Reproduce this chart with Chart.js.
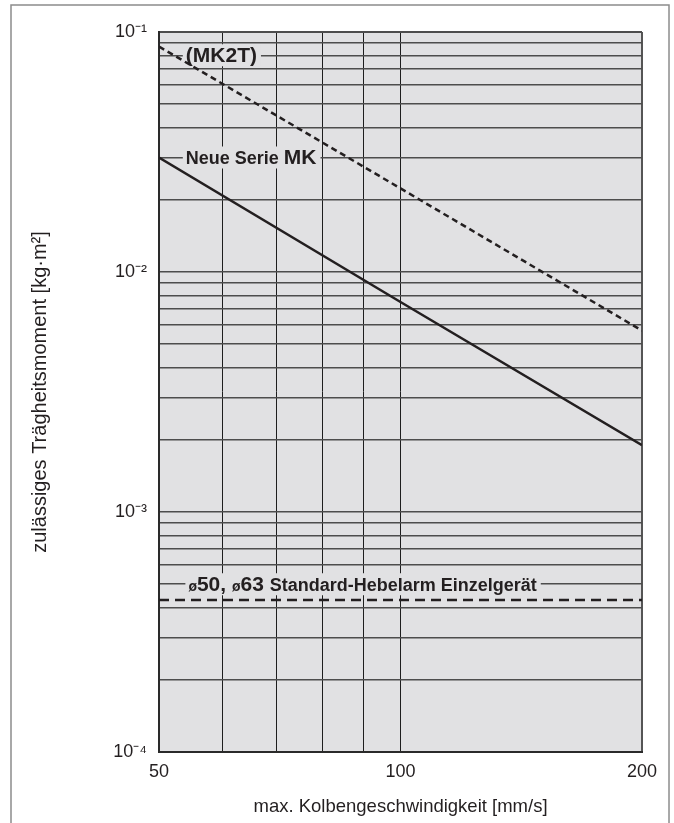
<!DOCTYPE html>
<html lang="de">
<head>
    <meta charset="UTF-8">
    <title>Zulässiges Trägheitsmoment</title>
    <script src="https://cdn.jsdelivr.net/npm/chart.js"></script>
    <style>
        body { margin: 0; padding: 0; background: #ffffff; }
        canvas { display: block; }
    </style>
</head>
<body>
<canvas id="inertiaChart" width="674" height="823"></canvas>
<script>
// max. Kolbengeschwindigkeit [mm/s]
const speeds = [50, 100, 200];
// zulässiges Trägheitsmoment [kg·m²]
const newSeriesMK = [0.03, 0.0075, 0.0019];
const seriesMK2T = [0.087, 0.0223, 0.0057];
const standardArm = [0.00043, 0.00043, 0.00043];

// ticks
const xTicks = [50, 60, 70, 80, 90, 100, 200];
const xTickLabels = ['50', '', '', '', '', '100', '200'];
const yDecades = [1e-4, 1e-3, 1e-2, 1e-1];
const yDecadeLabels = ['10⁻⁴', '10⁻³', '10⁻²', '10⁻¹'];
const yMinorSteps = [1, 2, 3, 4, 5, 6, 7, 8, 9];

const ink = '#231f20';
const plotGray = '#e1e1e3';
const family = "'Liberation Sans', Arial, sans-serif";

// labels sitting on a grid line, anchored in data units
const curveLabels = [
    { x: 54, y: 0.08, parts: [['(MK2T)', 'bold 21px']] },
    { x: 54, y: 0.03, parts: [['Neue Serie ', 'bold 18px'], ['MK', 'bold 21px']] },
    { x: 54.4, y: 0.0005, parts: [['ø', 'bold 14px'], ['50, ', 'bold 21px'], ['ø', 'bold 14px'],
        ['63 ', 'bold 21px'], ['Standard-Hebelarm Einzelgerät', 'bold 18px']] }
];

function points(ys) {
    return speeds.map((s, i) => ({ x: s, y: ys[i] }));
}

const yTickValues = [];
yDecades.forEach((d, i) => {
    if (i === yDecades.length - 1) { yTickValues.push(d); return; }
    yMinorSteps.forEach(m => yTickValues.push(m * d));
});

// frame and gray plot area
const paperPlugin = {
    id: 'paper',
    beforeDraw(chart) {
        const { ctx, chartArea: a } = chart;
        ctx.save();
        ctx.strokeStyle = '#8c8c8c';
        ctx.lineWidth = 1.5;
        ctx.strokeRect(11, 5, 658, 860);
        ctx.fillStyle = plotGray;
        ctx.fillRect(a.left, a.top, a.right - a.left, a.bottom - a.top);
        ctx.restore();
    }
};

// curve names, with a gray box hiding the grid line behind them
const labelPlugin = {
    id: 'curveLabels',
    beforeDatasetsDraw(chart) {
        const { ctx, scales } = chart;
        ctx.save();
        ctx.textBaseline = 'alphabetic';
        ctx.textAlign = 'left';
        curveLabels.forEach(lbl => {
            const x0 = scales.x.getPixelForValue(lbl.x);
            const y0 = scales.y.getPixelForValue(lbl.y);
            let w = 0;
            lbl.parts.forEach(p => { ctx.font = p[1] + ' ' + family; w += ctx.measureText(p[0]).width; });
            ctx.fillStyle = plotGray;
            ctx.fillRect(x0 - 3, y0 - 11, w + 7, 22);
            ctx.fillStyle = ink;
            let x = x0;
            lbl.parts.forEach(p => {
                ctx.font = p[1] + ' ' + family;
                ctx.fillText(p[0], x, y0 + 7);
                x += ctx.measureText(p[0]).width;
            });
        });
        ctx.restore();
    }
};

const ctx = document.getElementById('inertiaChart').getContext('2d');
new Chart(ctx, {
    type: 'line',
    data: {
        datasets: [
            { label: 'Neue Serie MK', data: points(newSeriesMK), borderColor: ink, borderWidth: 2.5, pointRadius: 0 },
            { label: '(MK2T)', data: points(seriesMK2T), borderColor: ink, borderWidth: 2.5, borderDash: [6, 4], pointRadius: 0 },
            { label: 'ø50, ø63 Standard-Hebelarm Einzelgerät', data: points(standardArm), borderColor: ink,
              borderWidth: 2.5, borderDash: [10, 6], pointRadius: 0 }
        ]
    },
    options: {
        responsive: false,
        animation: false,
        devicePixelRatio: 1,
        layout: { padding: { top: 32, right: 32, left: 0, bottom: 0 } },
        plugins: { legend: { display: false }, tooltip: { enabled: false } },
        scales: {
            x: {
                type: 'logarithmic',
                min: 50,
                max: 200,
                afterBuildTicks: s => { s.ticks = xTicks.map(v => ({ value: v })); },
                afterFit: s => { s.height = 71; },
                grid: {
                    drawTicks: false,
                    color: c => (c.tick && c.tick.value === 200) ? '#555555' : '#1e1e1e',
                    lineWidth: c => (c.tick && c.tick.value === 200) ? 2 : 1
                },
                border: { color: '#2a2a2a', width: 2 },
                ticks: {
                    autoSkip: false,
                    maxRotation: 0,
                    padding: 9,
                    color: ink,
                    font: { family: family, size: 18 },
                    callback: (v, i) => xTickLabels[i]
                },
                title: {
                    display: true,
                    text: 'max. Kolbengeschwindigkeit [mm/s]',
                    color: ink,
                    font: { family: family, size: 18.5 },
                    padding: { top: 0, bottom: 5 }
                }
            },
            y: {
                type: 'logarithmic',
                min: 1e-4,
                max: 1e-1,
                afterBuildTicks: s => { s.ticks = yTickValues.map(v => ({ value: v })); },
                afterFit: s => { s.width = 159; },
                grid: {
                    drawTicks: false,
                    color: '#4d4d4d',
                    lineWidth: c => (c.tick && c.tick.value === 1e-1) ? 2 : 1.5
                },
                border: { color: '#2a2a2a', width: 2 },
                ticks: {
                    autoSkip: false,
                    padding: 12,
                    color: ink,
                    font: { family: family, size: 18 },
                    callback: v => {
                        const k = yDecades.findIndex(d => Math.abs(v / d - 1) < 1e-6);
                        return k >= 0 ? yDecadeLabels[k] : '';
                    }
                },
                title: {
                    display: true,
                    text: 'zulässiges Trägheitsmoment [kg·m²]',
                    color: ink,
                    font: { family: family, size: 20 },
                    padding: { top: 28, bottom: 0 }
                }
            }
        }
    },
    plugins: [paperPlugin, labelPlugin]
});
</script>
</body>
</html>
